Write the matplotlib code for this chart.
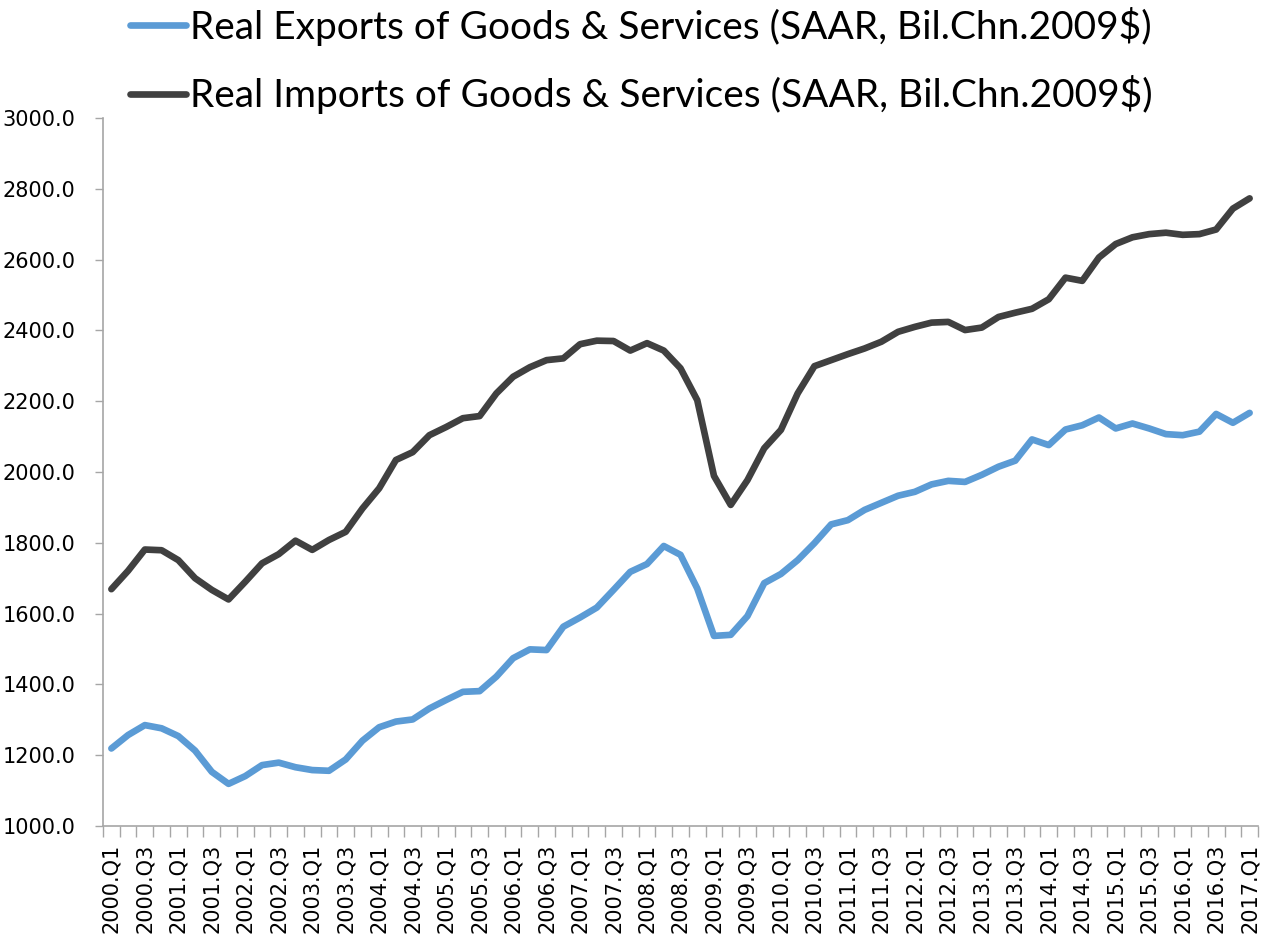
#importing libraries
import numpy as np
from matplotlib import pyplot as plt
###########################################################
# data (quarters 2000.Q1 .. 2017.Q1)
quarters = ["%d.Q%d" % (y, q) for y in range(2000, 2018) for q in range(1, 5)][:69]

exports = [1219, 1257, 1285, 1276, 1254, 1213, 1153, 1119, 1141, 1172,
           1179, 1166, 1158, 1156, 1188, 1241, 1279, 1295, 1301, 1332,
           1356, 1379, 1381, 1422, 1474, 1499, 1497, 1563, 1589, 1617,
           1667, 1718, 1740, 1791, 1766, 1671, 1537, 1540, 1593, 1686,
           1712, 1751, 1799, 1852, 1864, 1893, 1913, 1933, 1944, 1965,
           1975, 1972, 1992, 2015, 2032, 2092, 2076, 2120, 2132, 2154,
           2123, 2137, 2123, 2107, 2104, 2114, 2164, 2139, 2167]

imports = [1669, 1721, 1781, 1779, 1751, 1700, 1667, 1640, 1690, 1742,
           1768, 1806, 1780, 1808, 1831, 1897, 1954, 2034, 2056, 2104,
           2127, 2152, 2158, 2222, 2269, 2296, 2316, 2321, 2361, 2371,
           2370, 2343, 2364, 2343, 2293, 2203, 1989, 1907, 1977, 2067,
           2119, 2222, 2299, 2316, 2333, 2349, 2368, 2396, 2410, 2422,
           2424, 2401, 2408, 2438, 2450, 2461, 2488, 2549, 2540, 2606,
           2644, 2663, 2672, 2676, 2670, 2672, 2685, 2744, 2773]

labels = ["Real Exports of Goods & Services (SAAR, Bil.Chn.2009$)",
          "Real Imports of Goods & Services (SAAR, Bil.Chn.2009$)"]
###########################################################
fig = plt.figure(figsize=(12.62, 9.4), dpi=100)
ax = fig.add_axes([103/1262, 114/940, 1155/1262, 708/940])

x = np.arange(len(quarters))
l1, = ax.plot(x, exports, color="#5B9BD5", lw=4.8, solid_capstyle="round", solid_joinstyle="round")
l2, = ax.plot(x, imports, color="#404040", lw=4.8, solid_capstyle="round", solid_joinstyle="round")

ax.set_xlim(-0.5, len(quarters) - 0.5)
ax.set_ylim(1000, 3000)

# y axis
ax.set_yticks(np.arange(1000, 3001, 200))
ax.set_yticklabels(["%.1f" % v for v in np.arange(1000, 3001, 200)])
ax.tick_params(axis="y", direction="out", length=6, width=1, color="#A6A6A6",
               pad=14, labelsize=15)

# x axis: tick marks between categories, labels every 2nd quarter
ax.set_xticks(np.arange(-0.5, len(quarters), 1.0))
ax.set_xticklabels([])
ax.set_xticks(x[::2], minor=True)
ax.set_xticklabels(quarters[::2], minor=True, rotation=90)
ax.tick_params(axis="x", which="major", direction="out", length=8, width=1, color="#A6A6A6")
ax.tick_params(axis="x", which="minor", length=0, pad=13, labelsize=15)

for s in ["top", "right"]:
    ax.spines[s].set_visible(False)
for s in ["left", "bottom"]:
    ax.spines[s].set_color("#A6A6A6")
    ax.spines[s].set_linewidth(1.2)

#legend
leg = fig.legend([l1, l2], labels, loc="upper left", bbox_to_anchor=(128/1262, 1 - 5/940),
                 frameon=False, handlelength=1.45, handletextpad=0.1, labelspacing=0.76,
                 borderaxespad=0, borderpad=0.05,
                 prop={"family": ["Lato", "DejaVu Sans"], "size": 28})

plt.savefig("out.png", dpi=100)
